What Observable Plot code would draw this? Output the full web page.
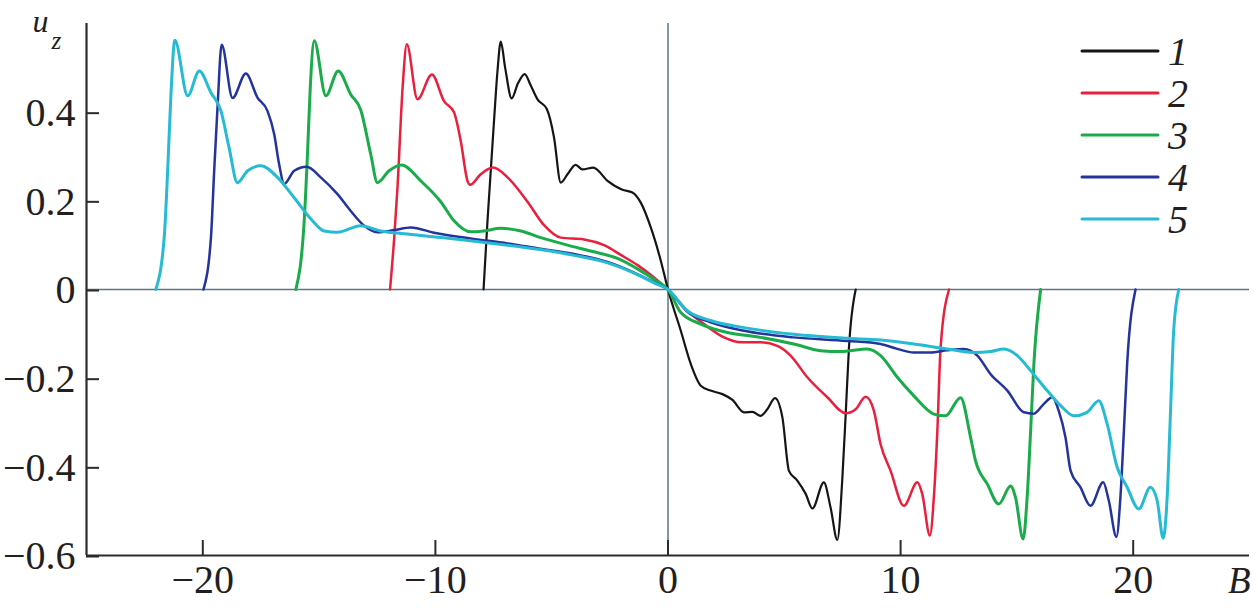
<!DOCTYPE html>
<html>
<head>
<meta charset="utf-8">
<script src="https://cdn.jsdelivr.net/npm/d3@7"></script>
<script src="https://cdn.jsdelivr.net/npm/@observablehq/plot@0.6"></script>
<style>
  html, body { margin: 0; padding: 0; background: #fff; }
  #wrap { position: relative; width: 1258px; height: 608px; }
  #legend { position: absolute; left: 0; top: 0; pointer-events: none; }
  svg text { font-family: "Liberation Serif", serif; }
</style>
</head>
<body>
<div id="wrap"></div>
<script>
// ---- Data (B, u_z) ----
const seriesNames = ["1", "2", "3", "4", "5"];
const seriesColors = ["#151515", "#e8203e", "#1aab4b", "#24349b", "#26bad3"];
const seriesWidths = [2.2, 2.5, 3, 2.5, 3];

const curve1 = [[-7.93,0],[-7.76,0.155],[-7.48,0.38],[-7.33,0.493],[-7.19,0.559],[-7.0,0.50],[-6.72,0.431],[-6.45,0.465],[-6.16,0.486],[-5.9,0.46],[-5.61,0.429],[-5.21,0.407],[-4.90,0.343],[-4.61,0.241],[-4.32,0.26],[-3.97,0.281],[-3.68,0.271],[-3.21,0.275],[-2.60,0.245],[-1.96,0.225],[-1.53,0.219],[-1.17,0.196],[-0.74,0.140],[-0.31,0.065],[0,0],[0.55,-0.093],[0.98,-0.168],[1.41,-0.217],[1.83,-0.228],[2.34,-0.236],[2.77,-0.249],[3.27,-0.277],[3.63,-0.276],[3.98,-0.285],[4.27,-0.270],[4.60,-0.245],[4.92,-0.289],[5.20,-0.409],[5.56,-0.431],[5.92,-0.461],[6.21,-0.494],[6.70,-0.435],[6.99,-0.492],[7.28,-0.565],[7.49,-0.431],[7.64,-0.281],[7.78,-0.131],[8.07,0]];
const curve2 = [[-11.95,0],[-11.77,0.117],[-11.63,0.23],[-11.41,0.455],[-11.23,0.553],[-10.77,0.429],[-10.15,0.485],[-9.63,0.425],[-9.20,0.40],[-8.91,0.335],[-8.62,0.245],[-8.51,0.236],[-8.05,0.26],[-7.52,0.275],[-6.90,0.253],[-6.04,0.198],[-5.33,0.145],[-4.61,0.117],[-3.61,0.113],[-2.75,0.100],[-2.03,0.078],[-1.31,0.055],[-0.60,0.027],[0,0],[0.83,-0.048],[1.55,-0.078],[2.41,-0.108],[3.12,-0.119],[3.98,-0.119],[4.70,-0.127],[5.27,-0.149],[5.99,-0.198],[6.85,-0.243],[7.64,-0.279],[8.07,-0.270],[8.50,-0.242],[8.85,-0.273],[9.14,-0.349],[9.57,-0.409],[10.14,-0.488],[10.72,-0.435],[10.93,-0.461],[11.26,-0.555],[11.43,-0.469],[11.58,-0.319],[11.72,-0.131],[12.08,0]];
const curve3 = [[-16.0,0],[-15.64,0.155],[-15.50,0.305],[-15.38,0.455],[-15.21,0.561],[-14.71,0.437],[-14.18,0.493],[-13.64,0.44],[-13.21,0.405],[-12.78,0.305],[-12.49,0.241],[-11.99,0.268],[-11.45,0.281],[-10.63,0.245],[-9.77,0.198],[-9.20,0.155],[-8.48,0.130],[-7.91,0.132],[-7.19,0.138],[-6.33,0.132],[-5.47,0.117],[-4.32,0.100],[-3.18,0.085],[-2.17,0.070],[-1.17,0.042],[-0.46,0.018],[0,0],[0.55,-0.052],[1.41,-0.078],[2.55,-0.097],[3.98,-0.108],[5.41,-0.123],[6.56,-0.138],[7.42,-0.140],[8.57,-0.134],[9.14,-0.149],[9.86,-0.198],[10.57,-0.240],[11.43,-0.281],[11.93,-0.285],[12.58,-0.244],[13.01,-0.334],[13.22,-0.386],[13.73,-0.439],[14.22,-0.484],[14.73,-0.443],[14.94,-0.469],[15.27,-0.563],[15.44,-0.469],[15.59,-0.319],[15.73,-0.168],[16.02,0]];
const curve4 = [[-19.97,0],[-19.65,0.117],[-19.51,0.268],[-19.36,0.418],[-19.19,0.552],[-18.72,0.432],[-18.15,0.487],[-17.65,0.433],[-17.22,0.403],[-16.93,0.350],[-16.72,0.283],[-16.50,0.238],[-16.07,0.268],[-15.53,0.277],[-14.93,0.253],[-14.21,0.215],[-13.64,0.177],[-13.13,0.147],[-12.49,0.129],[-11.77,0.134],[-11.06,0.140],[-10.06,0.128],[-8.5,0.115],[-6.9,0.104],[-5.5,0.092],[-4.04,0.080],[-2.6,0.062],[-1.46,0.038],[-0.6,0.016],[0,0],[0.83,-0.050],[1.83,-0.074],[3.27,-0.093],[5.41,-0.108],[7.71,-0.116],[9.14,-0.123],[9.86,-0.134],[10.57,-0.142],[11.29,-0.142],[12.0,-0.137],[12.72,-0.134],[13.30,-0.149],[13.87,-0.191],[14.59,-0.228],[15.30,-0.277],[15.73,-0.280],[16.16,-0.258],[16.52,-0.243],[16.80,-0.274],[17.09,-0.334],[17.31,-0.409],[17.73,-0.446],[18.16,-0.488],[18.71,-0.435],[18.95,-0.476],[19.28,-0.558],[19.45,-0.469],[19.60,-0.319],[19.74,-0.168],[20.1,0]];
const curve5 = [[-22.02,0],[-21.66,0.117],[-21.51,0.268],[-21.37,0.44],[-21.2,0.562],[-20.65,0.437],[-20.15,0.493],[-19.65,0.444],[-19.22,0.403],[-18.87,0.320],[-18.51,0.241],[-18.07,0.268],[-17.50,0.279],[-16.79,0.253],[-16.07,0.207],[-15.35,0.159],[-14.78,0.132],[-14.21,0.129],[-13.21,0.144],[-12.35,0.132],[-11.2,0.125],[-9.91,0.118],[-8.5,0.110],[-6.9,0.100],[-5.5,0.090],[-4.04,0.077],[-2.6,0.060],[-1.46,0.037],[-0.6,0.015],[0,0],[0.83,-0.048],[1.83,-0.070],[3.27,-0.086],[5.41,-0.101],[7.71,-0.110],[9.14,-0.114],[10.57,-0.123],[12.0,-0.134],[13.15,-0.142],[13.87,-0.140],[14.44,-0.134],[15.02,-0.149],[15.59,-0.183],[16.30,-0.228],[16.88,-0.262],[17.45,-0.285],[18.02,-0.277],[18.52,-0.251],[18.88,-0.303],[19.31,-0.401],[19.74,-0.446],[20.24,-0.495],[20.74,-0.446],[21.03,-0.476],[21.29,-0.561],[21.46,-0.469],[21.60,-0.281],[21.74,-0.093],[21.96,0]];

const xTicks = [-20, -10, 0, 10, 20];
const yTicks = [-0.6, -0.4, -0.2, 0, 0.2, 0.4];
const xDomain = [-25, 25];
const yDomain = [-0.6, 0.6];
const xLabel = "B";
const yLabelMain = "u";
const yLabelSub = "z";

// ---- Build table ----
const curves = [curve1, curve2, curve3, curve4, curve5];
const rows = curves.flatMap((c, i) => c.map(([x, y]) => ({x, y, s: seriesNames[i]})));

const fmt = d => d === 0 ? "0" : (d < 0 ? "\u2212" : "") + Math.abs(d);
const axisColor = "#2b2b2b";
const zeroColor = "#5d7582";
const serif = "Liberation Serif, serif";

const lineMarks = seriesNames.map((name, i) =>
  Plot.line(rows.filter(r => r.s === name), {
    x: "x", y: "y", stroke: seriesColors[i], strokeWidth: seriesWidths[i],
    curve: "monotone-x", strokeLinejoin: "round"
  })
);

const chart = Plot.plot({
  width: 1258,
  height: 608,
  marginLeft: 86,
  marginRight: 9,
  marginTop: 23,
  marginBottom: 53,
  x: {domain: xDomain, label: null},
  y: {domain: yDomain, label: null},
  style: "font-family: Liberation Serif, serif; background: #fff; color: #231f20;",
  marks: [
    Plot.ruleY([0], {stroke: zeroColor, strokeWidth: 1.5}),
    Plot.ruleX([0], {stroke: zeroColor, strokeWidth: 1.5}),
    ...lineMarks,
    Plot.ruleX([xDomain[0]], {stroke: axisColor, strokeWidth: 2.2}),
    Plot.ruleY([yDomain[0]], {stroke: axisColor, strokeWidth: 2.2}),
    Plot.axisY(yTicks, {tickSize: -13, tickPadding: 24, dy: 1, tickFormat: fmt, fontSize: 40, stroke: axisColor, strokeWidth: 2, label: null}),
    Plot.axisX(xTicks, {tickSize: -15, tickPadding: 24, tickFormat: fmt, fontSize: 40, stroke: axisColor, strokeWidth: 2, label: null}),
    Plot.text([yLabelMain], {frameAnchor: "top-left", dx: -54, dy: 8, textAnchor: "start", lineAnchor: "bottom", fontSize: 32, fontStyle: "italic", fill: "#231f20"}),
    Plot.text([yLabelSub], {frameAnchor: "top-left", dx: -35, dy: 25, textAnchor: "start", lineAnchor: "bottom", fontSize: 25, fontStyle: "italic", fill: "#231f20"}),
    Plot.text([xLabel], {frameAnchor: "bottom-right", dx: 1, dy: 37, textAnchor: "end", lineAnchor: "bottom", fontSize: 37, fontStyle: "italic", fill: "#231f20"})
  ]
});

const wrap = document.getElementById("wrap");
wrap.appendChild(chart);

// ---- Legend (overlay inside the plot area) ----
const leg = d3.select(wrap).append("svg")
  .attr("id", "legend").attr("width", 1258).attr("height", 608);
seriesNames.forEach((name, i) => {
  const yy = 51 + 42 * i;
  leg.append("line").attr("x1", 1082).attr("x2", 1158).attr("y1", yy).attr("y2", yy)
    .attr("stroke", seriesColors[i]).attr("stroke-width", 3).attr("stroke-linecap", "round");
  leg.append("text").attr("x", 1168).attr("y", yy + 14)
    .attr("font-family", serif).attr("font-style", "italic").attr("font-size", 40)
    .attr("fill", "#231f20").text(name);
});
</script>
</body>
</html>
